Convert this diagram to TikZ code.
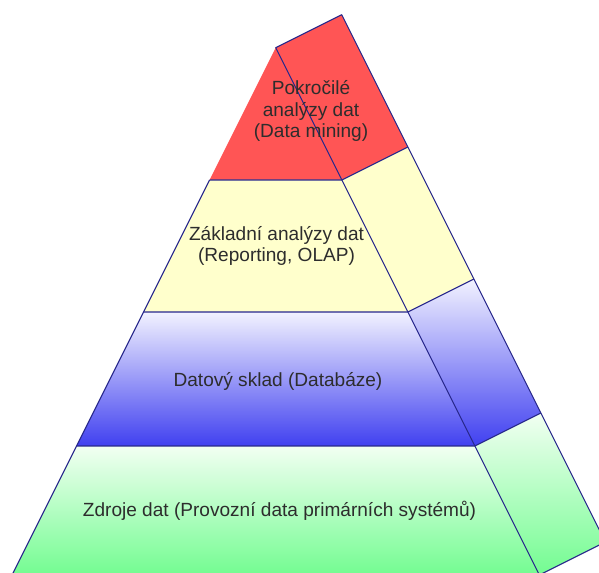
\documentclass[tikz,border=0pt]{standalone}
\usepackage{fontspec}
\setmainfont{Liberation Sans}
\usetikzlibrary{calc}
\definecolor{redc}{RGB}{255,85,85}
\definecolor{yelc}{RGB}{255,255,204}
\definecolor{blueT}{RGB}{242,242,255}
\definecolor{blueB}{RGB}{64,64,240}
\definecolor{greenT}{RGB}{242,255,242}
\definecolor{greenB}{RGB}{115,252,145}
\definecolor{edgec}{RGB}{40,40,140}
\definecolor{txtc}{RGB}{45,45,45}
\begin{document}
\begin{tikzpicture}[x=0.75pt,y=-0.75pt,
  edge/.style={draw=edgec,line width=0.8pt,line join=round},
  lbl/.style={text=txtc,font=\fontsize{14.3}{16.1}\selectfont,align=center,inner sep=0pt}]
\useasboundingbox (0,0) rectangle (599,573);
\clip (0,0) rectangle (599,573);
% front face corners
\coordinate (A) at (275.7,47.7);
\coordinate (L1) at (209.55,180);  \coordinate (R1) at (341.85,180);
\coordinate (L2) at (143.55,312);  \coordinate (R2) at (407.85,312);
\coordinate (L3) at (76.55,446);   \coordinate (R3) at (474.85,446);
\coordinate (L4) at (12.05,575);   \coordinate (R4) at (539.35,575);
% side face (back) corners
\coordinate (As) at ($(A)+(66,-33)$);
\coordinate (R1s) at ($(R1)+(66,-33)$);
\coordinate (R2s) at ($(R2)+(66,-33)$);
\coordinate (R3s) at ($(R3)+(66,-33)$);
\coordinate (R4s) at ($(R4)+(66,-33)$);
% fills
\fill[redc] (A) -- (L1) -- (R1) -- cycle;
\fill[redc] (A) -- (R1) -- (R1s) -- (As) -- cycle;
\fill[yelc] (L1) -- (L2) -- (R2) -- (R1) -- cycle;
\fill[yelc] (R1) -- (R2) -- (R2s) -- (R1s) -- cycle;
\shade[top color=blueT,bottom color=blueB] (L2) -- (L3) -- (R3) -- (R2) -- cycle;
\shade[top color=blueT,bottom color=blueB] (R2) -- (R3) -- (R3s) -- (R2s) -- cycle;
\shade[top color=greenT,bottom color=greenB] (L3) -- (L4) -- (R4) -- (R3) -- cycle;
\shade[top color=greenT,bottom color=greenB] (R3) -- (R4) -- (R4s) -- (R3s) -- cycle;
% outlines
\draw[edge] (R4) -- (A) -- (As) -- (R4s);
\draw[edge] (L1) -- (L4);
\draw[edge] (L1) -- (R1) -- (R1s);
\draw[edge] (L2) -- (R2) -- (R2s);
\draw[edge] (L3) -- (R3) -- (R3s);
\draw[edge] (L4) -- (R4) -- (R4s);
% labels
\node[lbl] (t1) at (311,111) {Pokročilé\\analýzy dat\\(Data mining)};
\node[lbl] (t2) at (276.5,246) {Základní analýzy dat\\(Reporting, OLAP)};
\node[lbl,anchor=base] (t3) at (278,386.7) {Datový sklad (Databáze)};
\node[lbl,anchor=base] (t4) at (279.5,516.7) {Zdroje dat (Provozní data primárních systémů)};
\end{tikzpicture}
\end{document}
